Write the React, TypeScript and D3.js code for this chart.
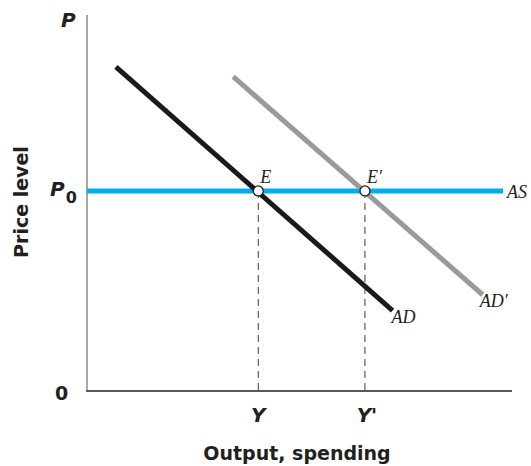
import { useEffect, useRef } from "react";
import * as d3 from "d3";

type Pt = { x: number; y: number };

// values, in axis units (0..100 on both axes)
const adCurve: Pt[] = [
  { x: 6.8, y: 86.2 },
  { x: 71.9, y: 21.4 },
];
const adPrimeCurve: Pt[] = [
  { x: 34.4, y: 83.6 },
  { x: 93.1, y: 25.6 },
];
const asCurve: Pt[] = [
  { x: 0, y: 53.2 },
  { x: 97.9, y: 53.2 },
];
const equilibria = [
  { name: "E", x: 40.3, y: 53.2, tick: "Y" },
  { name: "E\u2032", x: 65.4, y: 53.2, tick: "Y'" },
];

const W = 531;
const H = 466;

export default function App() {
  const ref = useRef<SVGSVGElement>(null);

  useEffect(() => {
    if (!ref.current) return;
    const svg = d3.select(ref.current);
    svg.selectAll("*").remove();

    const x = d3.scaleLinear().domain([0, 100]).range([87, 512]);
    const y = d3.scaleLinear().domain([0, 100]).range([391, 15]);

    const sans = "'DejaVu Sans', 'Open Sans', sans-serif";
    const serif = "'Liberation Serif', 'DejaVu Serif', serif";

    // axes
    svg.append("line")
      .attr("x1", x(0)).attr("x2", x(0))
      .attr("y1", y(0)).attr("y2", y(100))
      .attr("stroke", "#8a8a8a").attr("stroke-width", 1.5);
    svg.append("line")
      .attr("x1", x(0) - 0.75).attr("x2", x(100))
      .attr("y1", y(0)).attr("y2", y(0))
      .attr("stroke", "#231f20").attr("stroke-width", 1.3);

    // dashed drop lines
    svg.selectAll("line.drop")
      .data(equilibria)
      .enter()
      .append("line")
      .attr("class", "drop")
      .attr("x1", (d) => x(d.x)).attr("x2", (d) => x(d.x))
      .attr("y1", (d) => y(d.y)).attr("y2", y(0))
      .attr("stroke", "#3a3a3a").attr("stroke-width", 1)
      .attr("stroke-dasharray", "7,5");

    const line = d3.line<Pt>().x((d) => x(d.x)).y((d) => y(d.y));

    svg.append("path").attr("d", line(asCurve))
      .attr("fill", "none").attr("stroke", "#00aeef").attr("stroke-width", 5);
    svg.append("path").attr("d", line(adPrimeCurve))
      .attr("fill", "none").attr("stroke", "#999a9c").attr("stroke-width", 5);
    svg.append("path").attr("d", line(adCurve))
      .attr("fill", "none").attr("stroke", "#1a1a1a").attr("stroke-width", 5);

    svg.selectAll("circle.eq")
      .data(equilibria)
      .enter()
      .append("circle")
      .attr("class", "eq")
      .attr("cx", (d) => x(d.x)).attr("cy", (d) => y(d.y))
      .attr("r", 5)
      .attr("fill", "#fff").attr("stroke", "#231f20").attr("stroke-width", 1.3);

    // curve labels (serif italic)
    const serifLabel = (t: string, px: number, py: number) =>
      svg.append("text")
        .attr("x", px).attr("y", py)
        .attr("font-family", serif).attr("font-style", "italic")
        .attr("font-size", 18).attr("fill", "#231f20")
        .text(t);

    equilibria.forEach((d) => serifLabel(d.name, x(d.x) + 2, y(d.y) - 8));
    serifLabel("AS", x(asCurve[1].x) + 4, y(asCurve[1].y) + 7);
    serifLabel("AD", x(adCurve[1].x) - 1, y(adCurve[1].y) + 12);
    serifLabel("AD\u2032", x(adPrimeCurve[1].x) - 3, y(adPrimeCurve[1].y) + 12);

    // axis labels (bold sans)
    const boldLabel = (t: string, px: number, py: number, italic = true, anchor = "start", size = 20) =>
      svg.append("text")
        .attr("x", px).attr("y", py)
        .attr("font-family", sans).attr("font-weight", "bold")
        .attr("font-style", italic ? "italic" : "normal")
        .attr("font-size", size).attr("fill", "#231f20")
        .attr("text-anchor", anchor)
        .text(t);

    boldLabel("P", 61, 27);
    const p0 = boldLabel("P", 50, 196);
    p0.append("tspan")
      .attr("font-style", "normal").attr("font-size", 16)
      .attr("dx", 1).attr("dy", 7).text("0");
    boldLabel("0", 55, 400, false, "start", 19);
    equilibria.forEach((d) =>
      boldLabel(d.tick, x(d.x) + (d.tick.length > 1 ? 2 : 0), 422, true, "middle")
    );

    svg.append("text")
      .attr("x", 297).attr("y", 460)
      .attr("text-anchor", "middle")
      .attr("font-family", sans).attr("font-weight", "bold")
      .attr("font-size", 19).attr("fill", "#231f20")
      .text("Output, spending");

    svg.append("text")
      .attr("transform", `translate(28,202) rotate(-90)`)
      .attr("text-anchor", "middle")
      .attr("font-family", sans).attr("font-weight", "bold")
      .attr("font-size", 19).attr("fill", "#231f20")
      .text("Price level");
  }, []);

  return (
    <svg
      ref={ref}
      width={W}
      height={H}
      style={{ position: "absolute", left: 0, top: 0, background: "#fff" }}
    />
  );
}
